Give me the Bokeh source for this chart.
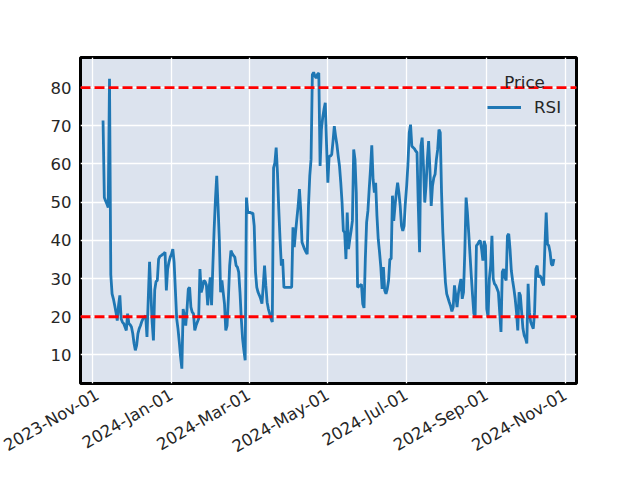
import pandas as pd
from math import pi
from bokeh.plotting import figure
from bokeh.models import (Range1d, FixedTicker, DatetimeTickFormatter, Legend,
                          LegendItem, Span, Label, ColumnDataSource)
from bokeh.embed import file_html
from bokeh.resources import INLINE

# ---- data ----
start_date = "2023-11-09"
end_date = "2024-10-23"
rsi = [
    71.4, 51.2, 50.3, 49.5, 48.6, 82.3, 31.0, 26.0, 24.7, 23.0,
    21.2, 19.0, 23.0, 25.6, 19.5, 18.6, 18.2, 17.3, 16.4, 20.8,
    18.2, 17.9, 17.3, 15.6, 13.0, 11.2, 12.5, 15.6, 16.9, 17.7,
    18.8, 19.5, 19.9, 20.3, 14.7, 24.7, 34.4, 26.4, 18.6, 13.8,
    27.0, 29.2, 29.5, 35.1, 35.8, 36.0, 36.3, 36.5, 36.9, 26.9,
    32.5, 34.3, 35.6, 36.4, 37.7, 34.3, 26.9, 19.5, 16.9, 13.4,
    9.5, 6.4, 22.0, 20.3, 17.7, 22.0, 27.3, 27.7, 22.5, 21.2,
    20.8, 16.4, 17.7, 18.6, 19.5, 32.5, 26.4, 27.7, 29.5, 29.2,
    28.3, 23.0, 27.3, 30.3, 23.0, 33.4, 43.0, 50.8, 56.9, 49.0,
    40.3, 26.4, 29.5, 26.4, 23.4, 16.4, 17.7, 24.7, 33.4, 37.3,
    36.6, 36.0, 35.6, 33.4, 33.0, 31.7, 26.4, 19.5, 14.3, 11.2,
    8.6, 51.2, 47.3, 47.3, 47.3, 47.1, 47.1, 43.8, 31.7, 27.7,
    26.4, 25.6, 24.7, 23.4, 28.2, 33.4, 28.2, 23.8, 22.0, 20.8,
    19.5, 18.6, 59.0, 60.3, 64.3, 57.7, 48.2, 40.3, 33.4, 35.1,
    27.7, 27.7, 27.7, 27.7, 27.7, 27.7, 27.7, 43.4, 38.2, 42.1,
    45.6, 49.0, 53.4, 48.0, 39.5, 38.6, 37.7, 37.0, 36.4, 49.0,
    56.9, 61.2, 83.4, 84.0, 83.0, 82.5, 83.5, 83.8, 59.5, 69.0,
    72.1, 74.3, 76.0, 65.0, 55.1, 62.1, 62.0, 62.5, 66.0, 69.9,
    67.3, 65.1, 62.1, 59.5, 55.1, 49.9, 42.5, 42.1, 35.1, 47.3,
    37.7, 40.3, 42.5, 45.1, 63.8, 61.2, 52.5, 27.7, 28.0, 28.2,
    28.5, 23.4, 22.3, 35.1, 44.7, 47.7, 53.4, 58.6, 64.9, 56.0,
    52.5, 55.1, 46.4, 40.3, 36.9, 33.0, 27.3, 33.0, 26.9, 26.0,
    27.3, 29.5, 35.1, 35.1, 51.7, 45.1, 49.0, 52.5, 55.1, 52.5,
    49.0, 43.8, 42.5, 43.8, 49.9, 54.3, 60.0, 68.2, 70.3, 64.7,
    64.3, 64.0, 63.4, 63.0, 49.0, 36.9, 64.7, 66.9, 59.5, 49.9,
    54.3, 61.2, 66.0, 58.6, 49.0, 54.3, 56.4, 57.3, 61.2, 63.8,
    69.0, 68.2, 52.5, 42.1, 35.1, 29.0, 26.0, 24.9, 23.8, 22.8,
    21.4, 22.5, 28.2, 25.6, 22.5, 26.0, 28.2, 29.9, 24.7, 26.4,
    36.9, 51.2, 47.3, 42.1, 36.4, 30.8, 25.6, 20.8, 20.3, 38.6,
    39.0, 39.7, 39.9, 37.7, 34.7, 39.9, 38.6, 22.0, 19.9, 30.0,
    33.4, 41.2, 29.9, 28.6, 28.2, 27.3, 26.4, 21.2, 16.0, 31.7,
    32.5, 30.3, 29.5, 41.2, 41.7, 37.7, 32.1, 29.5, 27.3, 24.7,
    21.2, 16.4, 26.4, 25.6, 21.2, 16.9, 15.1, 14.3, 13.0, 28.6,
    21.2, 18.6, 17.7, 16.9, 21.2, 32.5, 33.4, 30.3, 30.8, 30.3,
    29.0, 28.2, 38.6, 47.3, 39.0, 38.6, 36.9, 33.8, 33.4, 35.1,
]
tick_dates = ["2023-11-01", "2024-01-01", "2024-03-01", "2024-05-01",
              "2024-07-01", "2024-09-01", "2024-11-01"]
y_ticks = [10, 20, 30, 40, 50, 60, 70, 80]
overbought = 80
oversold = 20
legend_title = "Price"
series_name = "RSI"

dates = pd.date_range(start_date, end_date, freq="D")
n = min(len(dates), len(rsi))
src = ColumnDataSource(data=dict(date=dates[:n], rsi=rsi[:n]))

FONT = "DejaVu Sans"
BG = "#dce3ee"
TICK_FS = "16.5px"
LEG_FS = "16.7px"

t0 = dates[0].value / 1e6
t1 = dates[n - 1].value / 1e6
span = t1 - t0
ymin, ymax = min(rsi), max(rsi)
ypad = (ymax - ymin) * 0.05

p = figure(x_axis_type="datetime", output_backend="svg", toolbar_location=None,
           frame_width=496, frame_height=326,
           min_border_left=80, min_border_right=64,
           min_border_top=57, min_border_bottom=97,
           x_range=Range1d(t0 - 0.05 * span, t1 + 0.05 * span),
           y_range=Range1d(ymin - ypad, ymax + ypad))

p.background_fill_color = BG
p.border_fill_color = "white"
p.outline_line_color = "black"
p.outline_line_width = 3

tick_ms = [pd.Timestamp(d).value / 1e6 for d in tick_dates]
p.xaxis.ticker = FixedTicker(ticks=tick_ms)
fmt = "%Y-%b-%d"
p.xaxis.formatter = DatetimeTickFormatter(
    milliseconds=fmt, seconds=fmt, minsec=fmt, minutes=fmt, hourmin=fmt,
    hours=fmt, days=fmt, months=fmt, years=fmt)
p.xaxis.major_label_orientation = pi / 6
p.yaxis.ticker = FixedTicker(ticks=y_ticks)

for ax in (p.xaxis[0], p.yaxis[0]):
    ax.axis_line_color = None
    ax.major_tick_line_color = None
    ax.minor_tick_line_color = None
    ax.major_label_text_font = FONT
    ax.major_label_text_font_size = TICK_FS
    ax.major_label_text_color = "#262626"
p.yaxis.major_label_standoff = 3
p.xaxis.major_label_standoff = 4

p.xgrid.grid_line_color = "white"
p.ygrid.grid_line_color = "white"
p.xgrid.grid_line_width = 1.3
p.ygrid.grid_line_width = 1.3

r = p.line("date", "rsi", source=src, line_color="#1f77b4", line_width=2.8)

for lvl in (overbought, oversold):
    p.add_layout(Span(location=lvl, dimension="width", line_color="red",
                      line_dash="10 4", line_width=2.8))

legend = Legend(items=[LegendItem(label=series_name, renderers=[r])],
                location=(407, 266), background_fill_alpha=0,
                border_line_alpha=0, padding=0, margin=0, spacing=0,
                glyph_width=34, glyph_height=20, label_height=20,
                label_standoff=13, label_text_font=FONT,
                label_text_font_size=LEG_FS, label_text_color="#262626")
p.add_layout(legend)

p.add_layout(Label(x=444, y=302, x_units="screen", y_units="screen",
                   text=legend_title, text_align="center", text_baseline="middle",
                   text_font=FONT, text_font_size=LEG_FS, text_color="#262626"))

open("out.html", "w").write(file_html(p, INLINE))
